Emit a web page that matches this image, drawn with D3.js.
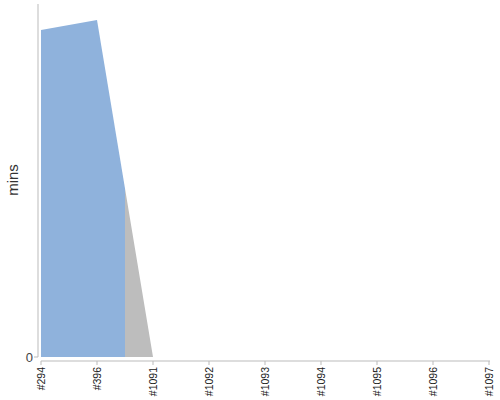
<!DOCTYPE html>
<html><head><meta charset="utf-8">
<script src="https://cdn.jsdelivr.net/npm/d3@7"></script>
<style>
body{margin:0;background:#fff;}
svg{display:block;font-family:"Liberation Sans",Arial,sans-serif;}
</style></head>
<body>
<script>
const builds = ["#294","#396","#1091","#1092","#1093","#1094","#1095","#1096","#1097"];
const durations = [12.97, 13.37, 0, 0, 0, 0, 0, 0, 0];
const statuses = ["success","success","aborted","aborted","aborted","aborted","aborted","aborted","aborted"];
const yTicks = [0];
const statusColors = {success:"#8fb2dc", aborted:"#bdbdbd"};

const W=500,H=400;
const svg=d3.select("body").append("svg").attr("width",W).attr("height",H);
const x=d3.scalePoint().domain(builds).range([41,489]);
const y=d3.scaleLinear().domain([0,14]).range([357,4]);

// areas per build, from midpoint with previous to midpoint with next
const pts=builds.map((b,i)=>({x:x(b),v:durations[i],s:statuses[i]}));
pts.forEach((p,i)=>{
  const seg=[];
  if(i>0){const q=pts[i-1];seg.push({x:(q.x+p.x)/2,v:(q.v+p.v)/2});}
  seg.push({x:p.x,v:p.v});
  if(i<pts.length-1){const q=pts[i+1];seg.push({x:(q.x+p.x)/2,v:(q.v+p.v)/2});}
  const area=d3.area().x(d=>d.x).y0(y(0)).y1(d=>y(d.v));
  svg.append("path").attr("d",area(seg)).attr("fill",statusColors[p.s]).attr("stroke","none");
});

// y axis
const ya=svg.append("g").attr("transform","translate(38,0)");
ya.append("line").attr("x1",0).attr("x2",0).attr("y1",4).attr("y2",y(0)).attr("stroke","#bbb");
yTicks.forEach(t=>{
  ya.append("line").attr("x1",-4).attr("x2",0).attr("y1",y(t)).attr("y2",y(t)).attr("stroke","#bbb");
  ya.append("text").attr("x",-5).attr("y",y(t)).attr("dy","0.35em").attr("text-anchor","end")
    .attr("font-size",13).attr("fill","#444").text(t);
});
svg.append("text").attr("transform","translate(18,180) rotate(-90)").attr("text-anchor","middle")
  .attr("font-size",15).attr("fill","#333").text("mins");

// x axis
const xa=svg.append("g").attr("transform","translate(0,361)");
xa.append("line").attr("x1",41).attr("x2",490).attr("y1",0).attr("y2",0).attr("stroke","#bbb");
builds.forEach(b=>{
  xa.append("line").attr("x1",x(b)).attr("x2",x(b)).attr("y1",0).attr("y2",4).attr("stroke","#bbb");
  xa.append("text").attr("transform",`translate(${x(b)+3.5},6) rotate(-90)`).attr("text-anchor","end")
    .attr("font-size",10.5).attr("fill","#222").text(b);
});
</script>
</body></html>
